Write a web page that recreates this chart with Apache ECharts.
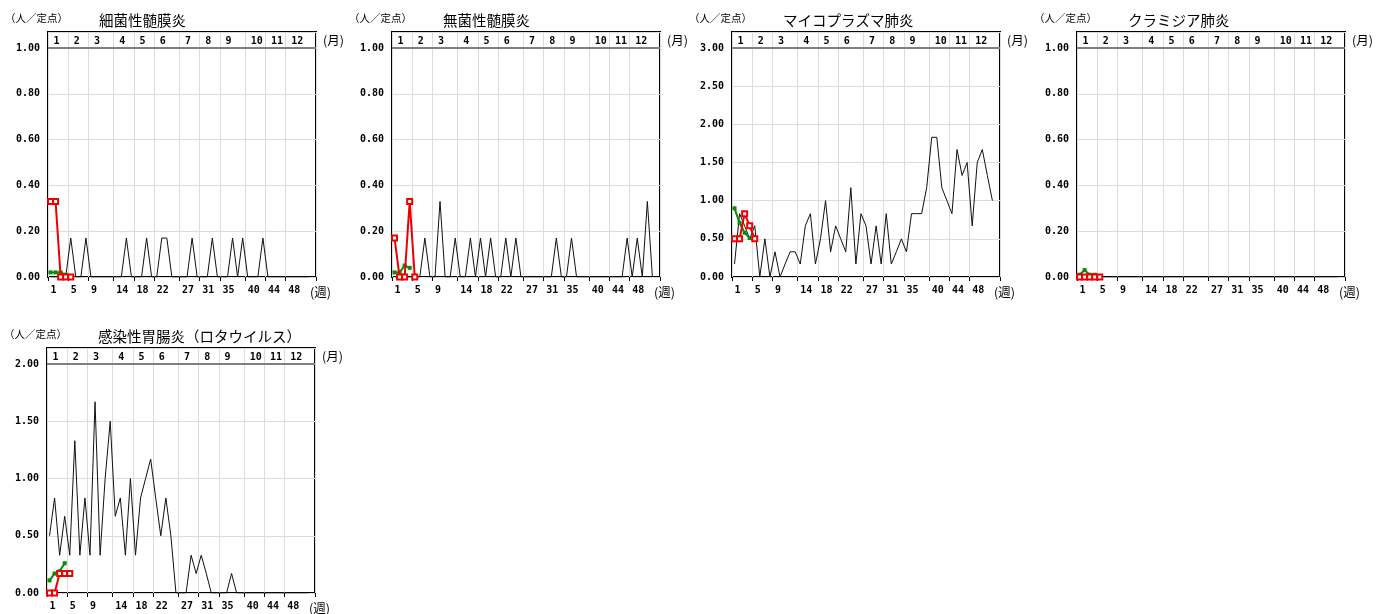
<!DOCTYPE html>
<html><head><meta charset="utf-8">
<script src="https://cdn.jsdelivr.net/npm/echarts@6/dist/echarts.min.js"></script>
<style>html,body{margin:0;padding:0;background:#fff}#c{width:1391px;height:614px}</style>
</head><body><div id="c"></div>
<script>
// ---------------- data ----------------
const weeks = ['1','2','3','4','5','6','7','8','9','10','11','12','13','14','15','16','17','18','19','20',
  '21','22','23','24','25','26','27','28','29','30','31','32','33','34','35','36','37','38','39','40',
  '41','42','43','44','45','46','47','48','49','50','51','52','53'];
const monthStartWeeks = [1,5,9,14,18,22,27,31,35,40,44,48];
const monthLabels = ['1','2','3','4','5','6','7','8','9','10','11','12'];
const titles = ['細菌性髄膜炎','無菌性髄膜炎','マイコプラズマ肺炎','クラミジア肺炎','感染性胃腸炎（ロタウイルス）'];
const yTopValues = [1, 1, 3, 1, 2];
const yIntervals = [0.2, 0.2, 0.5, 0.2, 0.5];

// previous season (black), current (red), national (green)
const bactPrev = [0,0,0,0,0.17,0,0,0.17,0,0, 0,0,0,0,0,0.17,0,0,0,0.17, 0,0,0.17,0.17,0,0,0,0,0.17,0,
  0,0,0.17,0,0,0,0.17,0,0.17,0, 0,0,0.17,0,0,0,0,0,0,0, 0,0];
const bactCur = [0.33,0.33,0,0,0];
const bactNat = [0.02,0.02,0.02,0.01];

const asepPrev = [0,0,0,0,0,0,0.17,0,0,0.33, 0,0,0.17,0,0,0.17,0,0.17,0,0.17, 0,0,0.17,0,0.17,0,0,0,0,0,
  0,0,0.17,0,0,0.17,0,0,0,0, 0,0,0,0,0,0,0.17,0,0.17,0, 0.33,0];
const asepCur = [0.17,0,0,0.33,0];
const asepNat = [0.02,0.02,0.05,0.04];

const mycoPrev = [0.17,0.83,0.67,0.5,0.67,0,0.5,0,0.33,0, 0.17,0.33,0.33,0.17,0.67,0.83,0.17,0.5,1.0,0.33,
  0.67,0.5,0.33,1.17,0.17,0.83,0.67,0.17,0.67,0.17, 0.83,0.17,0.33,0.5,0.33,0.83,0.83,0.83,1.17,1.83,
  1.83,1.17,1.0,0.83,1.67,1.33,1.5,0.67,1.5,1.67, 1.33,1.0];
const mycoCur = [0.5,0.5,0.83,0.67,0.5];
const mycoNat = [0.9,0.71,0.58,0.51];

const chlaPrev = [0,0,0,0,0,0,0,0,0,0, 0,0,0,0,0,0,0,0,0,0, 0,0,0,0,0,0,0,0,0,0,
  0,0,0,0,0,0,0,0,0,0, 0,0,0,0,0,0,0,0,0,0, 0,0];
const chlaCur = [0,0,0,0,0];
const chlaNat = [0.01,0.03,0.01,0.01];

const rotaPrev = [0.5,0.83,0.33,0.67,0.33,1.33,0.33,0.83,0.33,1.67, 0.33,1.0,1.5,0.67,0.83,0.33,1.0,0.33,0.83,1.0,
  1.17,0.83,0.5,0.83,0.5,0,0,0,0.33,0.17, 0.33,0.17,0,0,0,0,0.17,0,0,0, 0,0,0,0,0,0,0,0,0,0, 0,0];
const rotaCur = [0,0,0.17,0.17,0.17];
const rotaNat = [0.11,0.17,0.19,0.26];

const prevSeries = [bactPrev, asepPrev, mycoPrev, chlaPrev, rotaPrev];
const curSeries = [bactCur, asepCur, mycoCur, chlaCur, rotaCur];
const natSeries = [bactNat, asepNat, mycoNat, chlaNat, rotaNat];

// ---------------- layout ----------------
const layout = [{l:48,t:32},{l:392,t:32},{l:732,t:32},{l:1077,t:32},{l:47,t:348}];
const W = 268, H = 245, BAND = 16;
const MONO = '"DejaVu Sans Mono", monospace';
const JP = '"Noto Sans CJK JP", sans-serif';

const isMonthStart = (idx) => monthStartWeeks.indexOf(idx + 1) >= 0;

const grid = [], xAxis = [], yAxis = [], series = [], graphic = [];
layout.forEach((g, i) => {
  const yTop = yTopValues[i];
  const yMax = yTop * H / (H - BAND);
  grid.push({left:g.l, top:g.t, width:W, height:H, show:true, borderColor:'#000', borderWidth:2,
    backgroundColor:'rgba(0,0,0,0)', containLabel:false});
  xAxis.push({gridIndex:i, type:'category', data:weeks, boundaryGap:true, position:'bottom',
    axisLine:{show:false},
    axisTick:{show:true, length:4, interval:isMonthStart, lineStyle:{color:'#000', width:1}},
    axisLabel:{interval:isMonthStart, align:'left', margin:8, fontFamily:MONO, fontSize:10, fontWeight:'bold', color:'#000'},
    splitLine:{show:true, interval:isMonthStart, lineStyle:{color:'#dcdcdc', width:1}}});
  xAxis.push({gridIndex:i, type:'category', data:weeks, boundaryGap:true, position:'top',
    axisLine:{show:false}, axisTick:{show:false}, splitLine:{show:false},
    axisLabel:{inside:true, interval:isMonthStart, align:'left', margin:4, padding:[0,0,0,3],
      fontFamily:MONO, fontSize:10, fontWeight:'bold', color:'#000',
      formatter:(v) => monthLabels[monthStartWeeks.indexOf(+v)] || ''}});
  yAxis.push({gridIndex:i, type:'value', min:0, max:yMax, interval:yIntervals[i],
    axisLine:{show:false}, axisTick:{show:false},
    splitLine:{show:true, lineStyle:{color:'#dcdcdc', width:1}},
    axisLabel:{margin:8, fontFamily:MONO, fontSize:10, fontWeight:'bold', color:'#000',
      formatter:(v) => (v <= yTop + 1e-9 ? v.toFixed(2) : '')}});
  series.push({type:'line', xAxisIndex:2*i, yAxisIndex:i, data:prevSeries[i], showSymbol:false,
    lineStyle:{color:'#111', width:1}, itemStyle:{color:'#111'}, z:2, silent:true,
    markLine:{silent:true, symbol:'none', label:{show:false}, animation:false,
      lineStyle:{color:'#808080', width:2, type:'solid'}, data:[{yAxis:yTop}]}});
  series.push({type:'line', xAxisIndex:2*i, yAxisIndex:i, data:natSeries[i], symbol:'rect', symbolSize:4,
    showSymbol:true, showAllSymbol:true,
    lineStyle:{color:'#0a8a0a', width:2}, itemStyle:{color:'#0a8a0a'}, z:3, silent:true});
  series.push({type:'line', xAxisIndex:2*i, yAxisIndex:i, data:curSeries[i], symbol:'emptyRect', symbolSize:5,
    showSymbol:true, showAllSymbol:true,
    lineStyle:{color:'#ee0000', width:2}, itemStyle:{color:'#ee0000', borderWidth:1.5}, z:4, silent:true});

  graphic.push({type:'text', x:g.l-43, y:g.t-14, style:{text:'（人／定点）', fontFamily:JP, fontSize:10.5,
    fill:'#000', verticalAlign:'middle', align:'left'}});
  graphic.push({type:'text', x:g.l+51, y:g.t-11.5, style:{text:titles[i], fontFamily:JP, fontSize:14.5,
    fill:'#000', verticalAlign:'middle', align:'left'}});
  graphic.push({type:'text', x:g.l+W+7, y:g.t+8, style:{text:'(月)', fontFamily:JP, fontSize:12.5,
    fill:'#000', verticalAlign:'middle', align:'left'}});
  graphic.push({type:'text', x:g.l+W-6, y:g.t+H+15.5, style:{text:'(週)', fontFamily:JP, fontSize:12.5,
    fill:'#000', verticalAlign:'middle', align:'left'}});
});

const chart = echarts.init(document.getElementById('c'), null, {renderer:'canvas'});
chart.setOption({animation:false, backgroundColor:'#fff', grid, xAxis, yAxis, series, graphic});
</script></body></html>
